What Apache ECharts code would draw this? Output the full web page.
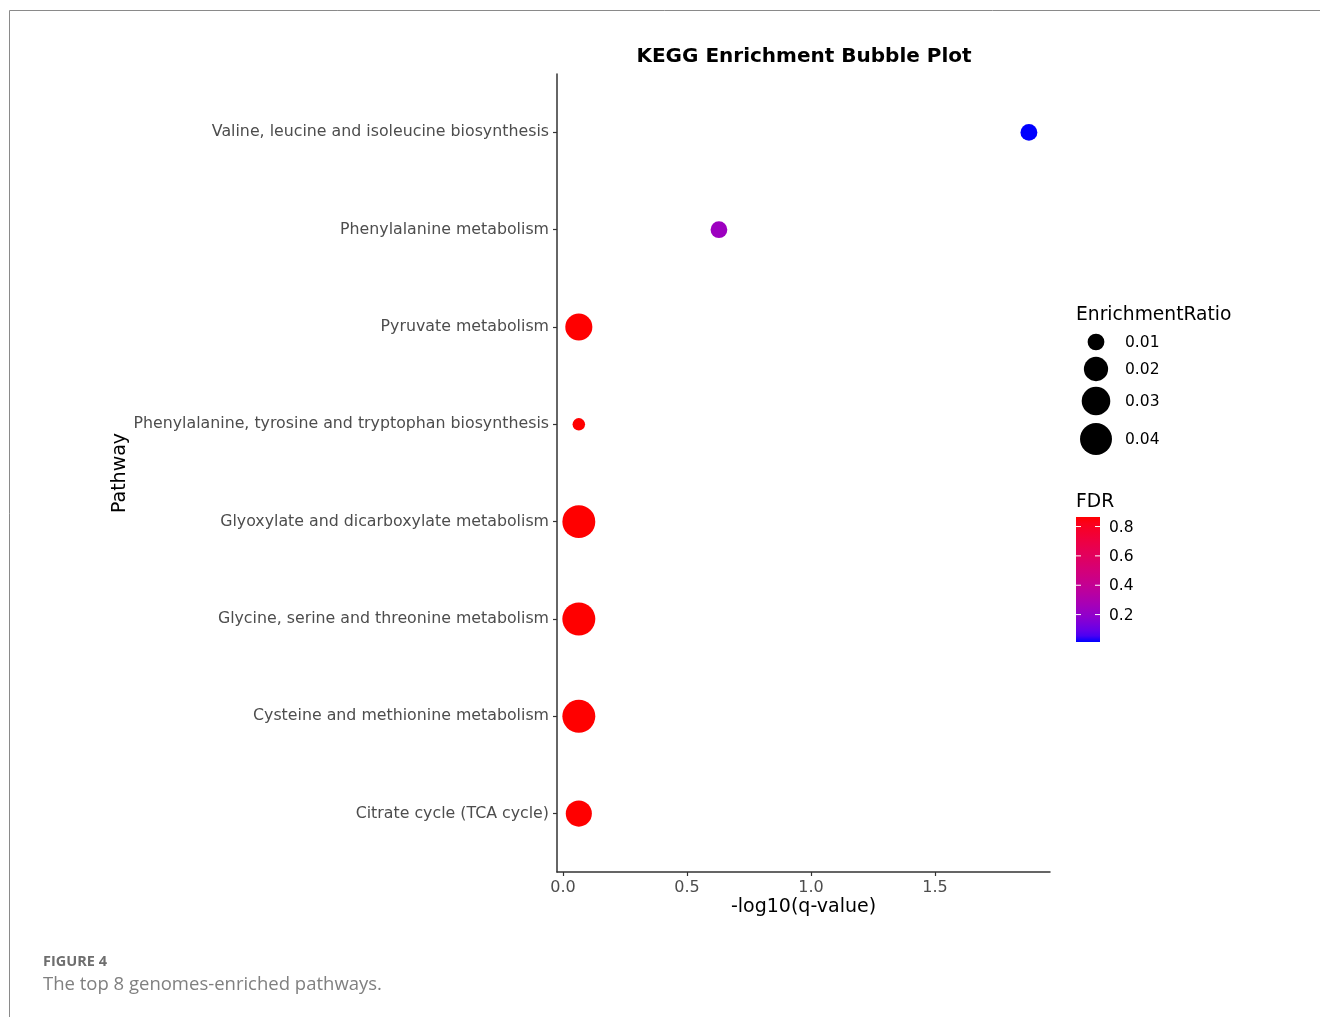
<!DOCTYPE html>
<html>
<head>
<meta charset="utf-8">
<style>
  html, body { margin: 0; padding: 0; background: #fff; }
  #chart { width: 1320px; height: 1017px; }
</style>
<script src="https://cdn.jsdelivr.net/npm/echarts@6/dist/echarts.min.js"></script>
</head>
<body>
<div id="chart"></div>
<script>
// KEGG pathways, listed top to bottom
const pathways = [
  'Valine, leucine and isoleucine biosynthesis',
  'Phenylalanine metabolism',
  'Pyruvate metabolism',
  'Phenylalanine, tyrosine and tryptophan biosynthesis',
  'Glyoxylate and dicarboxylate metabolism',
  'Glycine, serine and threonine metabolism',
  'Cysteine and methionine metabolism',
  'Citrate cycle (TCA cycle)'
];
// -log10(q-value)
const negLogQ = [1.879, 0.629, 0.064, 0.064, 0.064, 0.064, 0.064, 0.064];
// enrichment ratio (bubble size)
const enrichmentRatio = [0.0101, 0.0100, 0.0262, 0.0085, 0.0432, 0.0435, 0.0434, 0.0240];
// FDR (bubble colour)
const fdr = [0.0132, 0.235, 0.865, 0.865, 0.865, 0.865, 0.865, 0.865];

const xTicks = [0, 0.5, 1.0, 1.5];
const sizeBreaks = [0.01, 0.02, 0.03, 0.04];
const fdrBreaks = [0.2, 0.4, 0.6, 0.8];

// ---- colour scale: blue -> red interpolated in CIE Lab ----
function toLin(c) { c /= 255; return c <= 0.04045 ? c / 12.92 : Math.pow((c + 0.055) / 1.055, 2.4); }
function fromLin(c) { c = c <= 0.0031308 ? 12.92 * c : 1.055 * Math.pow(c, 1 / 2.4) - 0.055; return Math.round(Math.max(0, Math.min(1, c)) * 255); }
const Xn = 0.95047, Yn = 1.0, Zn = 1.08883;
function rgbToLab(rgb) {
  const r = toLin(rgb[0]), g = toLin(rgb[1]), b = toLin(rgb[2]);
  const X = (0.4124 * r + 0.3576 * g + 0.1805 * b) / Xn;
  const Y = (0.2126 * r + 0.7152 * g + 0.0722 * b) / Yn;
  const Z = (0.0193 * r + 0.1192 * g + 0.9505 * b) / Zn;
  const f = t => t > 0.008856 ? Math.cbrt(t) : 7.787 * t + 16 / 116;
  const fx = f(X), fy = f(Y), fz = f(Z);
  return [116 * fy - 16, 500 * (fx - fy), 200 * (fy - fz)];
}
function labToRgb(lab) {
  const fy = (lab[0] + 16) / 116, fx = fy + lab[1] / 500, fz = fy - lab[2] / 200;
  const inv = t => t * t * t > 0.008856 ? t * t * t : (t - 16 / 116) / 7.787;
  const X = inv(fx) * Xn, Y = inv(fy) * Yn, Z = inv(fz) * Zn;
  const r = 3.2406 * X - 1.5372 * Y - 0.4986 * Z;
  const g = -0.9689 * X + 1.8758 * Y + 0.0415 * Z;
  const b = 0.0557 * X - 0.2040 * Y + 1.0570 * Z;
  return 'rgb(' + fromLin(r) + ',' + fromLin(g) + ',' + fromLin(b) + ')';
}
const labLow = rgbToLab([0, 0, 255]), labHigh = rgbToLab([255, 0, 0]);
const fdrMin = Math.min(...fdr), fdrMax = Math.max(...fdr);
function colorAt(t) {
  return labToRgb([0, 1, 2].map(i => labLow[i] + (labHigh[i] - labLow[i]) * t));
}
function fdrColor(v) { return colorAt((v - fdrMin) / (fdrMax - fdrMin)); }

// ---- size scale: area-proportional between data limits ----
const ratioMin = Math.min(...enrichmentRatio), ratioMax = Math.max(...enrichmentRatio);
function bubbleSize(v) {
  const t = Math.max(0, (v - ratioMin) / (ratioMax - ratioMin));
  return 12.5 + 20.5 * Math.sqrt(t);
}

const points = pathways.map((p, i) => [negLogQ[i], i + 1, enrichmentRatio[i], fdr[i]]);

const FONT = 'DejaVu Sans';

// ---- legend graphics ----
const legendEls = [];
legendEls.push({ type: 'text', left: 1076, top: 306, style: { text: 'EnrichmentRatio', font: '18.7px "DejaVu Sans"', fill: '#000' } });
const sizeKeyY = [342, 369, 401, 439];
sizeBreaks.forEach((v, i) => {
  legendEls.push({ type: 'circle', shape: { cx: 1096, cy: sizeKeyY[i], r: bubbleSize(v) / 2 }, style: { fill: '#000' } });
  legendEls.push({ type: 'text', x: 1125, y: sizeKeyY[i] + 1, style: { text: v.toFixed(2), font: '15.5px "DejaVu Sans"', fill: '#000', verticalAlign: 'middle' } });
});
legendEls.push({ type: 'text', left: 1076, top: 493, style: { text: 'FDR', font: '18.7px "DejaVu Sans"', fill: '#000' } });
const barX = 1076, barTop = 517, barW = 24, barH = 125;
const stops = [];
for (let k = 0; k <= 20; k++) stops.push({ offset: k / 20, color: colorAt(1 - k / 20) });
legendEls.push({ type: 'rect', shape: { x: barX, y: barTop, width: barW, height: barH },
  style: { fill: new echarts.graphic.LinearGradient(0, 0, 0, 1, stops) } });
fdrBreaks.forEach(v => {
  const y = barTop + barH - (v - fdrMin) / (fdrMax - fdrMin) * barH;
  legendEls.push({ type: 'line', shape: { x1: barX, y1: y, x2: barX + 5, y2: y }, style: { stroke: '#fff', lineWidth: 1 } });
  legendEls.push({ type: 'line', shape: { x1: barX + barW - 5, y1: y, x2: barX + barW, y2: y }, style: { stroke: '#fff', lineWidth: 1 } });
  legendEls.push({ type: 'text', x: 1109, y: y + 1, style: { text: v.toFixed(1), font: '15.5px "DejaVu Sans"', fill: '#000', verticalAlign: 'middle' } });
});

// ---- page frame and caption ----
const frameEls = [
  { type: 'line', shape: { x1: 9.5, y1: 10.5, x2: 1320, y2: 10.5 }, style: { stroke: '#8a8a8a', lineWidth: 1 } },
  { type: 'line', shape: { x1: 9.5, y1: 10.5, x2: 9.5, y2: 1017 }, style: { stroke: '#8a8a8a', lineWidth: 1 } },
  { type: 'text', left: 43, top: 954, style: { text: 'FIGURE 4', font: 'bold 14.5px "Open Sans"', fill: '#6e6e6e' } },
  { type: 'text', left: 43, top: 975, style: { text: 'The top 8 genomes-enriched pathways.', font: '18.5px "Open Sans"', fill: '#808080', letterSpacing: 0.65 } }
];

const chart = echarts.init(document.getElementById('chart'), null, { renderer: 'canvas' });
chart.setOption({
  backgroundColor: '#fff',
  animation: false,
  title: {
    text: 'KEGG Enrichment Bubble Plot',
    left: 799, top: 42, textAlign: 'center',
    textStyle: { fontFamily: FONT, fontSize: 20, fontWeight: 'bold', color: '#000' }
  },
  grid: { left: 557, right: 270, top: 74, bottom: 145, containLabel: false },
  xAxis: {
    type: 'value', min: -0.024, max: 1.964,
    name: '-log10(q-value)', nameLocation: 'middle', nameGap: 26, nameMoveOverlap: false,
    nameTextStyle: { fontFamily: FONT, fontSize: 19, color: '#000' },
    axisLine: { show: true, onZero: false, lineStyle: { color: '#333', width: 1.5 } },
    axisTick: { show: true, customValues: xTicks, length: 4, lineStyle: { color: '#333', width: 1.2 } },
    axisLabel: { customValues: xTicks, formatter: v => v.toFixed(1), margin: 8,
      fontFamily: FONT, fontSize: 16, color: '#4d4d4d' },
    splitLine: { show: false }
  },
  yAxis: {
    type: 'value', min: 0.4, max: 8.6, inverse: true,
    name: 'Pathway', nameLocation: 'middle', nameGap: 421, nameRotate: 90,
    nameTextStyle: { fontFamily: FONT, fontSize: 19, color: '#000' },
    axisLine: { show: true, onZero: false, lineStyle: { color: '#333', width: 1.5 } },
    axisTick: { show: true, customValues: pathways.map((p, i) => i + 1), length: 4, lineStyle: { color: '#333', width: 1.2 } },
    axisLabel: { customValues: pathways.map((p, i) => i + 1), formatter: v => pathways[Math.round(v) - 1], margin: 8,
      fontFamily: FONT, fontSize: 15.8, color: '#4d4d4d', padding: [4, 0, 0, 0] },
    splitLine: { show: false }
  },
  series: [{
    type: 'scatter',
    data: points,
    symbol: 'circle',
    symbolSize: v => bubbleSize(v[2]),
    itemStyle: { color: p => fdrColor(p.value[3]), opacity: 1 },
    emphasis: { disabled: true }
  }],
  graphic: frameEls.concat(legendEls)
});
</script>
</body>
</html>
